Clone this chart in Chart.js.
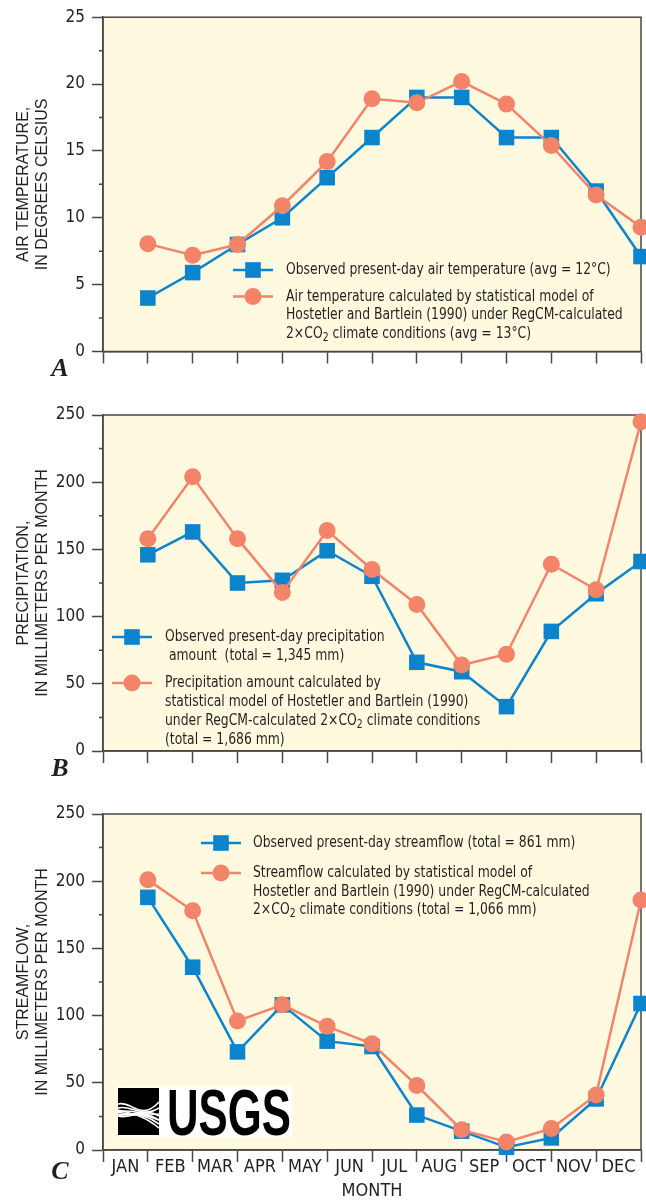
<!DOCTYPE html>
<html lang="en">
<head>
    <meta charset="UTF-8">
    <title>Air temperature, precipitation and streamflow</title>
    <script src="https://cdn.jsdelivr.net/npm/chart.js"></script>
    <style>
        body { margin: 0; background: #fff; }
        canvas { position: absolute; left: 0; }
    </style>
</head>
<body>

<canvas id="chartA" width="646" height="390" style="top:0px"></canvas>
<canvas id="chartB" width="646" height="400" style="top:390px"></canvas>
<canvas id="chartC" width="646" height="412" style="top:790px"></canvas>

<script>
    // months (points sit at the end of each month)
    const months = ['JAN', 'FEB', 'MAR', 'APR', 'MAY', 'JUN', 'JUL', 'AUG', 'SEP', 'OCT', 'NOV', 'DEC'];

    // A - air temperature, degrees C
    const tempObserved = [4, 5.9, 8, 10, 13, 16, 19, 19, 16, 16, 12, 7.1];
    const tempModel = [8.05, 7.2, 8, 10.9, 14.2, 18.9, 18.6, 20.2, 18.5, 15.4, 11.7, 9.3];

    // B - precipitation, mm per month
    const precipObserved = [146, 163, 125, 127, 149, 130, 66, 59, 33, 89, 117, 141];
    const precipModel = [158, 204, 158, 118, 164, 135, 109, 64, 72, 139, 120, 245];

    // C - streamflow, mm per month
    const flowObserved = [188, 136, 73, 108, 81, 77, 26, 14, 2, 9, 38, 109];
    const flowModel = [201, 178, 96, 108, 92, 79, 48, 15, 6, 16, 41, 186];

    // axis titles and legend text
    const tempTitle = ['AIR TEMPERATURE,', 'IN DEGREES CELSIUS'];
    const precipTitle = ['PRECIPITATION,', 'IN MILLIMETERS PER MONTH'];
    const flowTitle = ['STREAMFLOW,', 'IN MILLIMETERS PER MONTH'];

    const tempLegendObs = ['Observed present-day air temperature (avg = 12°C)'];
    const tempLegendModel = ['Air temperature calculated by statistical model of',
        'Hostetler and Bartlein (1990) under RegCM-calculated',
        '2×CO₂ climate conditions (avg = 13°C)'];
    const precipLegendObs = ['Observed present-day precipitation', ' amount  (total = 1,345 mm)'];
    const precipLegendModel = ['Precipitation amount calculated by',
        'statistical model of Hostetler and Bartlein (1990)',
        'under RegCM-calculated 2×CO₂ climate conditions',
        '(total = 1,686 mm)'];
    const flowLegendObs = ['Observed present-day streamflow (total = 861 mm)'];
    const flowLegendModel = ['Streamflow calculated by statistical model of',
        'Hostetler and Bartlein (1990) under RegCM-calculated',
        '2×CO₂ climate conditions (total = 1,066 mm)'];

    const BLUE = '#0B84CB';
    const SALMON = '#F3846A';
    const INK = '#231F20';
    const AXIS = '#4a4646';
    const PLOT_BG = '#FFFADF';
    const COND = '"Liberation Sans Narrow", "DejaVu Sans Condensed", "Roboto Condensed", sans-serif';
    const SANS = '"Liberation Sans", Arial, sans-serif';

    // text with a subscript 2 (CO2), squeezed a little to match the condensed face
    function drawRich(ctx, str, x, y, size) {
        const parts = str.split('₂');
        ctx.save();
        ctx.translate(x, y);
        ctx.scale(0.86, 1);
        let cx = 0;
        parts.forEach((p, i) => {
            ctx.font = size + 'px ' + COND;
            ctx.fillText(p, cx, 0);
            cx += ctx.measureText(p).width;
            if (i < parts.length - 1) {
                ctx.font = Math.round(size * 0.72) + 'px ' + COND;
                ctx.fillText('2', cx, 4);
                cx += ctx.measureText('2').width;
            }
        });
        ctx.restore();
    }

    function drawMarker(ctx, style, x, y) {
        if (style === 'rect') {
            ctx.fillRect(x - 7.8, y - 7.8, 15.6, 15.6);
        } else {
            ctx.beginPath();
            ctx.arc(x, y, 8.5, 0, Math.PI * 2);
            ctx.fill();
        }
    }

    const panelDecor = {
        id: 'panelDecor',
        beforeDraw(chart, args, o) {
            const { ctx, chartArea: a } = chart;
            ctx.save();
            ctx.fillStyle = PLOT_BG;
            ctx.fillRect(a.left, a.top, a.right - a.left, a.bottom - a.top);
            ctx.restore();
        },
        beforeDatasetsDraw(chart, args, o) {
            const { ctx, chartArea: a } = chart;
            const y = chart.scales.y;
            ctx.save();
            ctx.strokeStyle = AXIS;
            ctx.lineWidth = 1.5;
            ctx.strokeRect(a.left, a.top, a.right - a.left, a.bottom - a.top);
            // minor ticks halfway between labelled ones
            ctx.beginPath();
            for (let v = o.minor; v < y.max; v += 2 * o.minor) {
                const py = y.getPixelForValue(v);
                ctx.moveTo(a.left - 4, py);
                ctx.lineTo(a.left, py);
            }
            ctx.stroke();
            ctx.restore();
        },
        afterDatasetsDraw(chart, args, o) {
            const ctx = chart.ctx;
            const L = o.legend;
            ctx.save();
            ctx.textBaseline = 'middle';
            ctx.textAlign = 'left';
            let y = L.y;
            chart.data.datasets.forEach((d, i) => {
                const lines = o.legendText[i];
                ctx.strokeStyle = d.borderColor;
                ctx.fillStyle = d.borderColor;
                ctx.lineWidth = 2.5;
                ctx.beginPath();
                ctx.moveTo(L.x0, y);
                ctx.lineTo(L.x1, y);
                ctx.stroke();
                drawMarker(ctx, d.pointStyle, (L.x0 + L.x1) / 2, y);
                ctx.fillStyle = INK;
                lines.forEach((t, j) => drawRich(ctx, t, L.tx, y + j * L.lh, 16));
                y += (lines.length - 1) * L.lh + L.gap;
            });
            // panel letter
            ctx.font = 'italic bold 26px "Liberation Serif", "DejaVu Serif", serif';
            ctx.textAlign = 'center';
            ctx.fillStyle = INK;
            ctx.fillText(o.letter, 60, chart.chartArea.bottom + o.letterDy);
            if (o.logo) drawLogo(ctx, o.logo.x, o.logo.y);
            ctx.restore();
        }
    };

    function drawLogo(ctx, x, y) {
        ctx.save();
        ctx.fillStyle = '#fff';
        ctx.fillRect(x, y, 175, 51);
        ctx.fillStyle = '#000';
        ctx.fillRect(x + 1, y + 2, 41, 47);
        ctx.strokeStyle = '#fff';
        ctx.lineWidth = 1.6;
        for (let k = 0; k < 4; k++) {
            ctx.beginPath();
            ctx.moveTo(x + 1, y + 18 + k * 4);
            ctx.bezierCurveTo(x + 14, y + 14 + k * 4, x + 24, y + 36 - k * 3, x + 42, y + 16 + k * 6);
            ctx.stroke();
            ctx.beginPath();
            ctx.moveTo(x + 1, y + 30 - k * 2);
            ctx.bezierCurveTo(x + 16, y + 34 - k * 2, x + 26, y + 20 + k * 3, x + 42, y + 30 + k * 4);
            ctx.stroke();
        }
        ctx.font = 'bold 64px "Liberation Sans", Arial, sans-serif';
        ctx.textBaseline = 'alphabetic';
        ctx.textAlign = 'left';
        const w = ctx.measureText('USGS').width;
        ctx.translate(x + 50, y + 49);
        ctx.scale(124 / w, 1.02);
        ctx.fillText('USGS', 0, 0);
        ctx.restore();
    }

    function series(label, values, color, style, radius, order) {
        return {
            label: label,
            data: values.map((v, i) => ({ x: i + 1, y: v })),
            borderColor: color,
            backgroundColor: color,
            borderWidth: 2.5,
            pointStyle: style,
            pointRadius: radius,
            pointHoverRadius: radius,
            pointBorderWidth: 0,
            tension: 0,
            clip: false,
            order: order
        };
    }

    function yAxis(max, step, title) {
        return {
            position: 'left',
            min: 0,
            max: max,
            ticks: { stepSize: step, padding: 7, color: INK, font: { family: COND, size: 17 } },
            grid: { drawOnChartArea: false, tickLength: 11, tickWidth: 1.5, tickColor: AXIS },
            border: { color: AXIS, width: 1.5 },
            title: {
                display: true, text: title, color: INK,
                font: { family: SANS, size: 16, lineHeight: 1.2 },
                padding: { top: 14, bottom: 0 }
            },
            afterFit(s) { s.width = 103; }
        };
    }

    function xAxis(h) {
        return {
            type: 'linear',
            position: 'bottom',
            min: 0,
            max: 12,
            weight: 0,
            ticks: { display: false, stepSize: 1 },
            grid: { drawOnChartArea: false, tickLength: 12, tickWidth: 1.5, tickColor: AXIS },
            border: { color: AXIS, width: 1.5 },
            afterFit(s) { s.height = h; }
        };
    }

    function makeChart(id, obs, model, yMax, yStep, title, legendText, pad, decor, withMonths) {
        const scales = { x: xAxis(withMonths ? 2 : 14), y: yAxis(yMax, yStep, title) };
        if (withMonths) {
            scales.m = {
                type: 'category',
                axis: 'x',
                position: 'bottom',
                labels: months,
                offset: true,
                weight: 1,
                ticks: { padding: 5, color: INK, font: { family: COND, size: 18 } },
                grid: { display: false, drawTicks: false },
                border: { display: false },
                title: {
                    display: true, text: 'MONTH', color: INK,
                    font: { family: COND, size: 18, lineHeight: 1.2 },
                    padding: { top: 0, bottom: 0 }
                },
                afterFit(s) { s.height = 50; }
            };
        }
        decor.legendText = legendText;
        new Chart(document.getElementById(id).getContext('2d'), {
            type: 'line',
            data: {
                datasets: [
                    series(legendText[0].join(' '), obs, BLUE, 'rect', 11, 1),
                    series(legendText[1].join(' '), model, SALMON, 'circle', 8.5, 0)
                ]
            },
            options: {
                responsive: false,
                animation: false,
                layout: { padding: pad, autoPadding: false },
                scales: scales,
                plugins: {
                    legend: { display: false },
                    tooltip: { enabled: false },
                    panelDecor: decor
                }
            },
            plugins: [panelDecor]
        });
    }

    makeChart('chartA', tempObserved, tempModel, 25, 5, tempTitle,
        [tempLegendObs, tempLegendModel],
        { left: 0, right: 5, top: 16, bottom: 24.5 },
        { minor: 2.5, letter: 'A', letterDy: 18, legend: { x0: 233, x1: 273, tx: 286, y: 270, lh: 18.5, gap: 26.5 } },
        false);

    makeChart('chartB', precipObserved, precipModel, 250, 50, precipTitle,
        [precipLegendObs, precipLegendModel],
        { left: 0, right: 5, top: 25, bottom: 25 },
        { minor: 25, letter: 'B', letterDy: 18, legend: { x0: 112, x1: 152, tx: 165, y: 247, lh: 19, gap: 27 } },
        false);

    makeChart('chartC', flowObserved, flowModel, 250, 50, flowTitle,
        [flowLegendObs, flowLegendModel],
        { left: 0, right: 5, top: 24, bottom: 0 },
        { minor: 25, letter: 'C', letterDy: 22, legend: { x0: 201, x1: 241, tx: 253, y: 53, lh: 18.5, gap: 30 },
          logo: { x: 117, y: 296 } },
        true);
</script>

</body>
</html>
